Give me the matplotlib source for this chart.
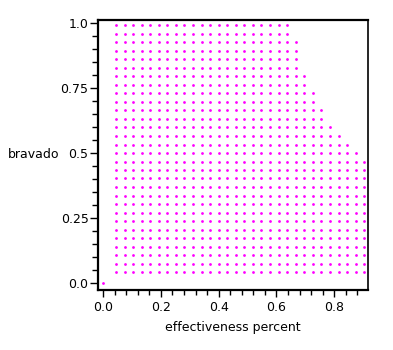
import matplotlib
matplotlib.use('Agg')
import matplotlib.pyplot as plt
from matplotlib.ticker import MultipleLocator

# grid of column x-values and row y-values
x_cols = [0.044, 0.074, 0.103, 0.133, 0.163, 0.192, 0.222, 0.252, 0.281, 0.311,
          0.341, 0.370, 0.400, 0.430, 0.459, 0.489, 0.519, 0.548, 0.578, 0.608,
          0.637, 0.667, 0.697, 0.726, 0.756, 0.786, 0.815, 0.845, 0.875, 0.904]
y_rows = [0.042, 0.075, 0.107, 0.140, 0.173, 0.206, 0.238, 0.271, 0.304, 0.336,
          0.369, 0.402, 0.434, 0.467, 0.500, 0.532, 0.565, 0.598, 0.631, 0.663,
          0.696, 0.729, 0.761, 0.794, 0.827, 0.859, 0.892, 0.925, 0.957, 0.990]
# index of the last filled column in each row (bottom row first)
row_last = [29, 29, 29, 29, 29, 29, 29, 29, 29, 29, 29, 29, 29, 29,
            28, 27, 26, 25, 24, 24, 23, 23, 22, 22, 21, 21, 21, 21, 20, 20]
extra_x = [0.0]
extra_y = [0.0]

xs = list(extra_x)
ys = list(extra_y)
for j, y in enumerate(y_rows):
    for i in range(row_last[j] + 1):
        xs.append(x_cols[i])
        ys.append(y)

fig = plt.figure(figsize=(3.93, 3.5), dpi=100)
ax = fig.add_axes([0.250, 0.1714, 0.6856, 0.7715])

ax.scatter(xs, ys, s=4, color='#ff00ff', linewidths=0)

ax.set_xlim(-0.017, 0.916)
ax.set_ylim(-0.026, 1.01)

ax.xaxis.set_minor_locator(MultipleLocator(0.04))
ax.yaxis.set_minor_locator(MultipleLocator(0.05))
ax.set_xticks([0.0, 0.2, 0.4, 0.6, 0.8])
ax.set_xticklabels(['0.0', '0.2', '0.4', '0.6', '0.8'])
ax.set_yticks([0.0, 0.25, 0.5, 0.75, 1.0])
ax.set_yticklabels(['0.0', '0.25', '0.5', '0.75', '1.0'])

ax.tick_params(axis='x', which='major', direction='out', length=5, width=1, pad=3, labelsize=9, colors='black')
ax.tick_params(axis='x', which='minor', direction='out', length=3.5, width=1)
ax.tick_params(axis='y', which='major', direction='out', length=6, width=1, pad=1, labelsize=9, colors='black')
ax.tick_params(axis='y', which='minor', direction='out', length=4, width=1)
ax.tick_params(top=False, right=False, which='both')

for side in ['left', 'bottom', 'top']:
    ax.spines[side].set_linewidth(1.6)
ax.spines['right'].set_linewidth(1.2)

ax.set_xlabel('effectiveness percent', fontsize=9)
ax.xaxis.set_label_coords(0.5, -0.137)
ax.xaxis.label.set_va('center')
ax.set_ylabel('bravado', fontsize=9, rotation=0, ha='center', va='center')
ax.yaxis.set_label_coords(-0.24, 0.5)

fig.savefig('out.png', dpi=100)
